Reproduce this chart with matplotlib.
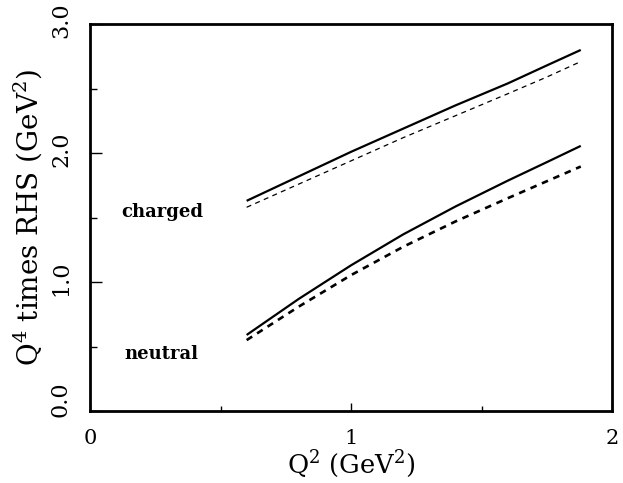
import matplotlib
matplotlib.use('Agg')
import matplotlib.pyplot as plt
import matplotlib.transforms as mtransforms
from matplotlib.ticker import MultipleLocator

plt.rcParams['font.family'] = 'DejaVu Serif'
plt.rcParams['mathtext.fontset'] = 'dejavuserif'

# Q^2 values (GeV^2)
q2 = [0.6, 0.8, 1.0, 1.2, 1.4, 1.6, 1.75, 1.88]

# Q^4 times RHS (GeV^2)
charged_solid = [1.63, 1.82, 2.01, 2.19, 2.37, 2.54, 2.68, 2.80]
charged_dashed = [1.58, 1.76, 1.94, 2.12, 2.29, 2.46, 2.59, 2.71]
neutral_solid = [0.59, 0.87, 1.13, 1.37, 1.586, 1.786, 1.93, 2.056]
neutral_dashed = [0.55, 0.81, 1.054, 1.274, 1.47, 1.65, 1.782, 1.896]

fig = plt.figure(figsize=(6.23, 4.83), dpi=100)
ax = fig.add_axes([0.1445, 0.149, 0.838, 0.801])

ax.plot(q2, charged_solid, color='black', lw=1.6, solid_capstyle='butt')
ax.plot(q2, charged_dashed, color='black', lw=0.9, dashes=(4, 3.5))
ax.plot(q2, neutral_solid, color='black', lw=1.6, solid_capstyle='butt')
ax.plot(q2, neutral_dashed, color='black', lw=1.9, dashes=(2.5, 2.2))

ax.text(0.275, 1.54, 'charged', fontsize=13, fontweight='bold', ha='center', va='center')
ax.text(0.275, 0.44, 'neutral', fontsize=13, fontweight='bold', ha='center', va='center')

ax.set_xlim(0, 2)
ax.set_ylim(0, 3)
ax.xaxis.set_major_locator(MultipleLocator(1))
ax.xaxis.set_minor_locator(MultipleLocator(0.5))
ax.yaxis.set_major_locator(MultipleLocator(1))
ax.yaxis.set_minor_locator(MultipleLocator(0.5))
ax.xaxis.set_major_formatter(plt.FuncFormatter(lambda v, p: '%d' % v))
ax.yaxis.set_major_formatter(plt.FuncFormatter(lambda v, p: '%.1f' % v))

ax.tick_params(axis='x', which='major', direction='in', length=6, width=1, labelsize=15, pad=13,
               top=False)
ax.tick_params(axis='x', which='minor', direction='in', length=3.5, width=1, top=False)
ax.tick_params(axis='y', which='major', direction='in', length=8.5, width=1, labelsize=16, pad=13,
               right=False, labelrotation=90)
ax.tick_params(axis='y', which='minor', direction='in', length=5, width=1, right=False)

fig.canvas.draw()
for lbl in ax.get_yticklabels():
    lbl.set_va('center')
    shift = 12 if lbl.get_text() == '0.0' else 4
    lbl.set_transform(lbl.get_transform() + mtransforms.ScaledTranslation(0, shift / 100, fig.dpi_scale_trans))

for s in ax.spines.values():
    s.set_linewidth(2)

ax.set_xlabel(r'Q$^2$ (GeV$^2$)', fontsize=18.5, labelpad=0)
ax.set_ylabel(r'Q$^4$ times RHS (GeV$^2$)', fontsize=20, labelpad=4)

fig.savefig('out.png', dpi=100)
